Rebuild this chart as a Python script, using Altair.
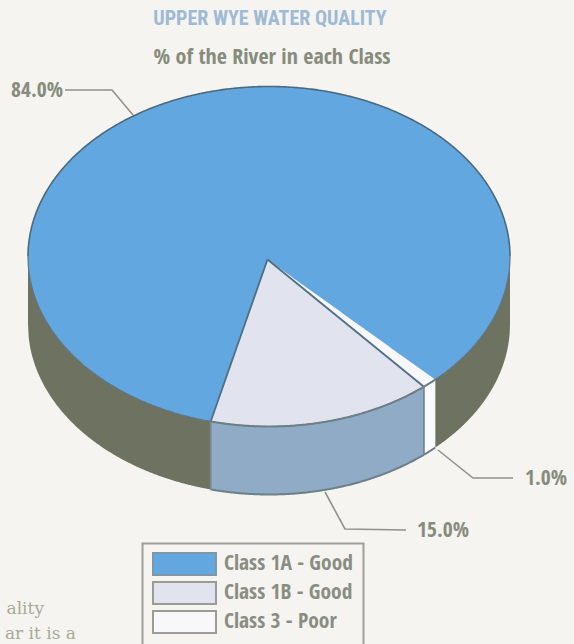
import numpy as np
import pandas as pd
import altair as alt

# Pie values and legend entries
classes = ["Class 1A - Good", "Class 1B - Good", "Class 3 - Poor"]
shares = [84.0, 15.0, 1.0]
share_labels = ["84.0%", "15.0%", "1.0%"]
top_colors = ["#62a7df", "#e1e4ee", "#f8f8fb"]
wall_colors = ["#6e7260", "#8fabc6", "#fafafd"]
swatch_strokes = ["#7f96a6", "#9a9c94", "#9a9c94"]

title_text = "UPPER WYE WATER QUALITY"
subtitle_text = "% of the River in each Class"
body_lines = ["ality", "ar it is a"]

W, H = 574, 644
CX, CY, RX, RY, DEPTH = 269.0, 256.5, 241.0, 170.0, 68.0
APEX_X, APEX_Y = 267.5, 259.5  # the slices meet slightly off the ellipse centre
START_ANGLE = 104.0  # where the 15% slice begins, in ellipse parameter degrees

x_scale = alt.Scale(domain=[0, W], nice=False, zero=False)
y_scale = alt.Scale(domain=[H, 0], nice=False, zero=False)
X = alt.X("x:Q", scale=x_scale, axis=None)
Y = alt.Y("y:Q", scale=y_scale, axis=None)


def ex(t):
    return CX + RX * np.cos(np.radians(t))


def ey(t):
    return CY + RY * np.sin(np.radians(t))


def arc_y(x):
    # lower half of the top ellipse
    return CY + RY * np.sqrt(np.clip(1 - ((x - CX) / RX) ** 2, 0, 1))


def radial_y(x, t):
    # height of the slice edge running from the apex to angle t on the rim
    slope = (ey(t) - APEX_Y) / (ex(t) - APEX_X)
    return APEX_Y + (x - APEX_X) * slope


t_a = START_ANGLE
t_b = t_a - shares[1] / 100 * 360
t_c = t_b - shares[2] / 100 * 360


def grid(x0, x1, n=240):
    return np.linspace(x0, x1, n)


def area_layer(x, y, y2, color):
    df = pd.DataFrame({"x": x, "y": y, "y2": y2})
    return alt.Chart(df).mark_area(color=color, opacity=1, interpolate="linear").encode(
        x=X, y=Y, y2="y2:Q"
    )


def line_layer(x, y, color, width=2.0):
    df = pd.DataFrame({"x": x, "y": y, "i": np.arange(len(x))})
    return alt.Chart(df).mark_line(color=color, strokeWidth=width, interpolate="linear").encode(
        x=X, y=Y, order="i:Q"
    )


layers = []

# Side walls of the drum
gx = grid(CX - RX, ex(t_a))
layers.append(area_layer(gx, arc_y(gx), arc_y(gx) + DEPTH, wall_colors[0]))
gx = grid(ex(t_c), CX + RX)
layers.append(area_layer(gx, arc_y(gx), arc_y(gx) + DEPTH, wall_colors[0]))
gx = grid(ex(t_a), ex(t_b))
layers.append(area_layer(gx, arc_y(gx), arc_y(gx) + DEPTH, wall_colors[1]))
gx = grid(ex(t_b), ex(t_c), 40)
layers.append(area_layer(gx, arc_y(gx), arc_y(gx) + DEPTH, wall_colors[2]))

# Full top ellipse in the majority colour
gx = CX + RX * np.cos(np.linspace(np.pi, 0, 500))
upper = CY - RY * np.sqrt(np.clip(1 - ((gx - CX) / RX) ** 2, 0, 1))
lower = CY + RY * np.sqrt(np.clip(1 - ((gx - CX) / RX) ** 2, 0, 1))
layers.append(area_layer(gx, upper, lower, top_colors[0]))

# 15% slice on top
gx = np.sort(np.concatenate([grid(ex(t_a), ex(t_b)), [APEX_X]]))
slice_top = np.where(gx < APEX_X, radial_y(gx, t_a), radial_y(gx, t_b))
layers.append(area_layer(gx, slice_top, arc_y(gx), top_colors[1]))

# 1% slice on top
gx = np.sort(np.concatenate([grid(APEX_X, ex(t_c), 160), [ex(t_b)]]))
slice_bottom = np.minimum(radial_y(gx, t_b), arc_y(gx))
layers.append(area_layer(gx, radial_y(gx, t_c), slice_bottom, top_colors[2]))

# Outlines
edge = "#4f6f82"
angles = np.linspace(0, np.pi, 400)
gx = CX + RX * np.cos(angles)
layers.append(line_layer(gx, CY - RY * np.sin(angles), "#4b6b7d", 1.6))
layers.append(line_layer(gx, CY + RY * np.sin(angles), "#5f7480", 1.2))
for t in (t_a, t_b):
    layers.append(line_layer([APEX_X, float(ex(t))], [APEX_Y, float(ey(t))], edge, 1.8))
gx = grid(ex(t_a), ex(t_c))
layers.append(line_layer(gx, arc_y(gx), "#6d8086", 2.0))
layers.append(line_layer(gx, arc_y(gx) + DEPTH, "#6d8086", 2.0))
for t in (t_a, t_b):
    px = float(ex(t))
    py = float(ey(t))
    layers.append(line_layer([px, px], [py, py + DEPTH], "#77878e", 1.8))

# Leader lines from the pie to each percentage
leader_color = "#8f9388"
leaders = [
    ([65, 112, 133], [90, 90, 115]),
    ([325, 345, 406], [492, 529, 530]),
    ([438, 473, 513], [450, 478, 478]),
]
for lx, ly in leaders:
    layers.append(line_layer(lx, ly, leader_color, 1.6))


def text_layer(rows, color, font, size, align="left", weight="normal"):
    df = pd.DataFrame(rows, columns=["x", "y", "t"])
    return alt.Chart(df).mark_text(
        color=color, font=font, fontSize=size, align=align, baseline="middle", fontWeight=weight
    ).encode(x=X, y=Y, text="t:N")


CONDENSED = "Open Sans Condensed"
layers.append(text_layer([(270, 19, title_text)], "#9fbad5", "Roboto Condensed", 20, "center", "bold"))
layers.append(text_layer([(272, 57, subtitle_text)], "#878c7c", CONDENSED, 22, "center", "bold"))
layers.append(text_layer([(11, 91, share_labels[0]), (417, 531, share_labels[1]), (525, 479, share_labels[2])],
                         "#878c7c", CONDENSED, 21.5, "left", "bold"))
layers.append(text_layer([(44, 609, body_lines[0]), (76, 634, body_lines[1])],
                         "#a7ab96", "DejaVu Serif", 17, "right"))

# Legend frame, open at the bottom edge of the page
frame_color = "#9d9f96"
layers.append(line_layer([142.5, 142.5, 363.5, 363.5], [H, 543.5, 543.5, H], frame_color, 2.0))
swatch_tops = [553, 582, 611]
swatches = pd.DataFrame({
    "x": [153] * 3, "x2": [216] * 3,
    "y": swatch_tops, "y2": [t + 22 for t in swatch_tops],
    "fill": top_colors, "stroke": swatch_strokes,
})
layers.append(alt.Chart(swatches).mark_rect(strokeWidth=2).encode(
    x=X, x2="x2:Q", y=Y, y2="y2:Q",
    fill=alt.Fill("fill:N", scale=None),
    stroke=alt.Stroke("stroke:N", scale=None),
))
layers.append(text_layer([(224, t + 11, c) for t, c in zip(swatch_tops, classes)],
                         "#8a8e82", CONDENSED, 21.5, "left", "bold"))

chart = alt.layer(*layers).properties(
    width=W, height=H, padding=0, background="#f5f4f1",
    autosize=alt.AutoSizeParams(type="none"),
).configure_view(stroke=None)

chart.save("out.html", embed_options={"renderer": "svg", "actions": False})
